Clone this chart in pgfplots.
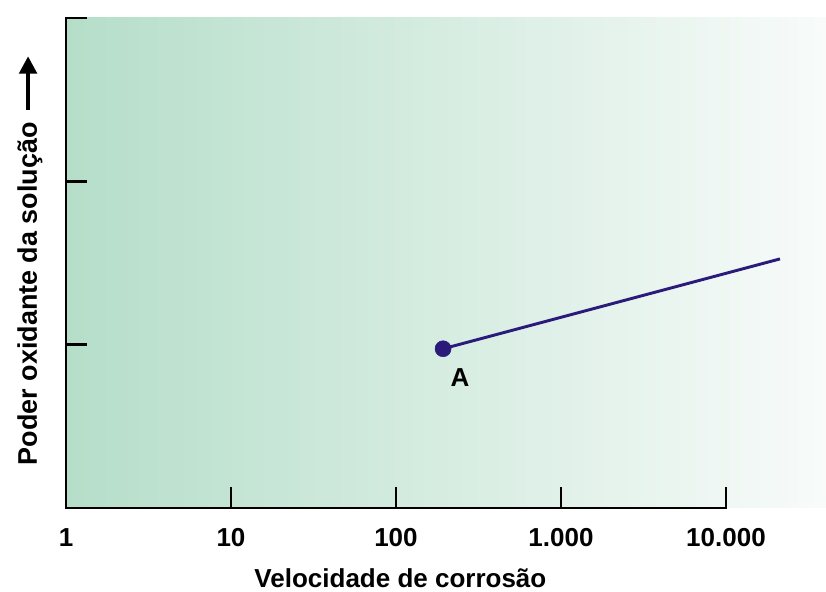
\documentclass[border=0pt]{standalone}
\usepackage{pgfplots}
\pgfplotsset{compat=1.18}
\usepackage{fontspec}
\setmainfont{Liberation Sans}
\usetikzlibrary{arrows.meta}
\definecolor{lineblue}{RGB}{42,26,122}
\definecolor{gleft}{RGB}{181,222,201}
\definecolor{gright}{RGB}{248,251,250}
\newcommand{\lbl}{\fontsize{19.5}{23}\selectfont\bfseries}
\newcommand{\ylbl}{\fontsize{20.2}{24}\selectfont\bfseries}
\begin{document}
\begin{tikzpicture}
\begin{axis}[
  scale only axis, width=570pt, height=367.5pt,
  xmode=log, xmin=1, xmax=40400, ymin=0, ymax=3,
  axis lines=left, axis line style={draw=none},
  clip=false,
  axis background/.style={left color=gleft, right color=gright, draw=none},
  xtick={1,10,100,1000,10000}, xticklabels={1,10,100,1.000,10.000},
  ytick={1,2,3}, yticklabels={},
  xminorticks=false, yminorticks=false,
  tick align=inside, major tick length=16pt,
  tick style={line width=2.2pt, black},
  xticklabel style={anchor=center, yshift=-22.5pt, font=\lbl},
  xlabel={Velocidade de corrosão},
  ylabel={Poder oxidante da solução\hspace{0.4em}\tikz[baseline=-0.33em]\draw[line width=3pt,-{Triangle[length=13pt,width=13pt]}] (0,0) -- (40pt,0);},
  xlabel style={at={(axis description cs:0.44,0)}, anchor=center, yshift=-52.5pt, font=\lbl},
  ylabel style={at={(axis description cs:0,0.5)}, anchor=center, yshift=27pt, xshift=2.5pt, font=\ylbl},
]
\addplot[lineblue, line width=2.2pt, mark=none] coordinates {(193,0.975) (21250,1.525)};
\addplot[lineblue, only marks, mark=*, mark size=6pt] coordinates {(193,0.975)};
\node[font=\lbl] at (axis cs:244,0.796) {A};
\draw[line width=2.2pt, line cap=rect] (axis cs:1,3) -- (axis cs:1,0) -- (axis cs:10000,0);
\end{axis}
\path ([shift={(-49.5pt,-60.75pt)}]current axis.south west) rectangle ([shift={(0pt,13.5pt)}]current axis.north east);
\end{tikzpicture}
\end{document}
